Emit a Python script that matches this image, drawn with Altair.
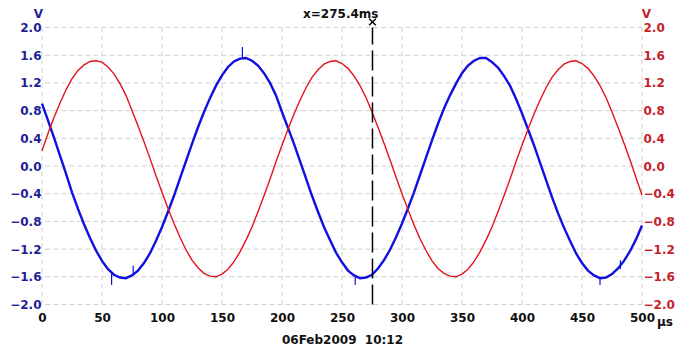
import altair as alt
import pandas as pd

# time axis (µs), sampled every 5 µs
t_us = list(range(0, 501, 5))

blue_v = [0.90, 0.66, 0.41, 0.15, -0.11, -0.38, -0.62, -0.84, -1.04, -1.22,
          -1.37, -1.49, -1.57, -1.61, -1.62, -1.58, -1.51, -1.40, -1.26, -1.08,
          -0.88, -0.66, -0.43, -0.18, 0.07, 0.32, 0.56, 0.78, 0.98, 1.16,
          1.31, 1.43, 1.51, 1.55, 1.56, 1.52, 1.45, 1.34, 1.20, 1.02,
          0.78, 0.55, 0.32, 0.07, -0.18, -0.43, -0.66, -0.88, -1.07, -1.25,
          -1.39, -1.51, -1.58, -1.62, -1.61, -1.57, -1.48, -1.36, -1.21, -1.03,
          -0.83, -0.61, -0.38, -0.13, 0.12, 0.37, 0.61, 0.83, 1.02, 1.19,
          1.34, 1.45, 1.52, 1.56, 1.56, 1.50, 1.42, 1.30, 1.16, 0.97,
          0.76, 0.53, 0.30, 0.05, -0.20, -0.45, -0.68, -0.89, -1.08, -1.26,
          -1.40, -1.51, -1.58, -1.62, -1.61, -1.56, -1.48, -1.37, -1.23, -1.06, -0.86]

red_v = [0.22, 0.47, 0.70, 0.91, 1.10, 1.26, 1.38, 1.46, 1.51, 1.52,
         1.50, 1.43, 1.33, 1.19, 1.02, 0.80, 0.58, 0.35, 0.11, -0.14,
         -0.38, -0.61, -0.83, -1.03, -1.21, -1.36, -1.47, -1.55, -1.59, -1.60,
         -1.56, -1.49, -1.38, -1.24, -1.07, -0.88, -0.66, -0.43, -0.19, 0.06,
         0.30, 0.53, 0.75, 0.95, 1.13, 1.28, 1.39, 1.47, 1.51, 1.52,
         1.48, 1.41, 1.30, 1.16, 0.99, 0.78, 0.56, 0.33, 0.09, -0.16,
         -0.40, -0.63, -0.85, -1.05, -1.22, -1.37, -1.48, -1.55, -1.59, -1.60,
         -1.56, -1.49, -1.38, -1.24, -1.07, -0.88, -0.66, -0.43, -0.19, 0.06,
         0.30, 0.53, 0.75, 0.95, 1.13, 1.28, 1.39, 1.47, 1.51, 1.52,
         1.48, 1.41, 1.30, 1.16, 0.99, 0.78, 0.56, 0.33, 0.09, -0.17, -0.42]

# noise spikes visible on the blue trace
spike_t = [58, 76, 167, 261, 465, 482]
spike_lo = [-1.54, -1.57, 1.55, -1.60, -1.61, -1.49]
spike_hi = [-1.72, -1.44, 1.72, -1.72, -1.72, -1.36]

x_ticks = [0, 50, 100, 150, 200, 250, 300, 350, 400, 450, 500]
y_ticks = [-2.0, -1.6, -1.2, -0.8, -0.4, 0.0, 0.4, 0.8, 1.2, 1.6, 2.0]

cursor_t = [275.4]
cursor_lo = [-2.0]
cursor_hi = [2.0]
date_text = "06Feb2009\u00a0 10:12"
unit_text = "µs"

FONT = "DejaVu Sans"
BLUE = "#1010e0"
RED = "#e0141e"
BLUE_LBL = "#1e1e96"
RED_LBL = "#c4222a"
GRID = "#d0d0d0"

df_blue = pd.DataFrame({"t": t_us, "v": blue_v})
df_red = pd.DataFrame({"t": t_us, "v": red_v})
df_spike = pd.DataFrame({"t": spike_t, "lo": spike_lo, "hi": spike_hi})
df_cur = pd.DataFrame({"t": cursor_t, "lo": cursor_lo, "hi": cursor_hi,
                       "label": [f"x={c}ms" for c in cursor_t]})
df_xg = pd.DataFrame({"t": x_ticks})
df_yg = pd.DataFrame({"g": y_ticks})

xscale = alt.Scale(domain=[0, 500], nice=False, zero=False)
yscale = alt.Scale(domain=[-2, 2], nice=False, zero=False)

x_axis = alt.Axis(values=x_ticks, grid=False, domain=False, ticks=False,
                  labelFlush=False,
                  labelFont=FONT, labelFontWeight="bold", labelFontSize=12,
                  labelColor="#111111", labelPadding=8,
                  title=date_text, titleFont=FONT, titleFontWeight="bold",
                  titleFontSize=12, titleColor="#111111", titlePadding=11)

left_axis = alt.Axis(orient="left", values=y_ticks, format=".1f", grid=False,
                     domain=False, ticks=False,
                     labelFont=FONT, labelFontWeight="bold", labelFontSize=12,
                     labelColor=BLUE_LBL, labelPadding=1, labelFlush=False,
                     title="V", titleAngle=0, titleX=-4, titleY=-14,
                     titleAlign="center", titleBaseline="middle",
                     titleFont=FONT, titleFontWeight="bold", titleFontSize=12,
                     titleColor=BLUE_LBL)

right_axis = alt.Axis(orient="right", values=y_ticks, format=".1f", grid=False,
                      domain=False, ticks=False,
                      labelFont=FONT, labelFontWeight="bold", labelFontSize=12,
                      labelColor=RED_LBL, labelPadding=1, labelFlush=False,
                      title="V", titleAngle=0, titleX=4, titleY=-14,
                      titleAlign="center", titleBaseline="middle",
                      titleFont=FONT, titleFontWeight="bold", titleFontSize=12,
                      titleColor=RED_LBL)


def X():
    return alt.X("t:Q", scale=xscale, axis=x_axis)


xgrid = alt.Chart(df_xg).mark_rule(color=GRID, strokeWidth=1,
                                   strokeDash=[5, 3]).encode(x=X())

ygrid = alt.Chart(df_yg).mark_rule(color=GRID, strokeWidth=1,
                                   strokeDash=[5, 3]).encode(
    y=alt.Y("g:Q", scale=yscale, axis=None),
)

blue = alt.Chart(df_blue).mark_line(color=BLUE, strokeWidth=2.4).encode(
    x=X(),
    y=alt.Y("v:Q", scale=yscale, axis=left_axis),
)

red = alt.Chart(df_red).mark_line(color=RED, strokeWidth=1.4).encode(
    x=X(),
    y=alt.Y("v:Q", scale=yscale, axis=right_axis),
)

spikes = alt.Chart(df_spike).mark_rule(color=BLUE, strokeWidth=1.2).encode(
    x=X(),
    y=alt.Y("lo:Q", scale=yscale, axis=None),
    y2="hi:Q",
)

cursor = alt.Chart(df_cur).mark_rule(color="black", strokeWidth=1.5,
                                     strokeDash=[20, 6]).encode(
    x=X(),
    y=alt.Y("lo:Q", scale=yscale, axis=None),
    y2="hi:Q",
)

cursor_mark = alt.Chart(df_cur).mark_point(
    shape="M-1,-1L1,1M-1,1L1,-1", size=45, color="black", strokeWidth=1.4,
    filled=False, opacity=1).encode(
    x=X(),
    y=alt.value(-5.5),
)

cursor_text = alt.Chart(df_cur).mark_text(
    align="right", baseline="middle", dx=6, font=FONT, fontWeight="bold",
    fontSize=12, color="#111111").encode(
    x=X(),
    y=alt.value(-14),
    text="label:N",
)

unit = alt.Chart(pd.DataFrame({"u": [unit_text]})).mark_text(
    align="left", baseline="middle", font=FONT, fontWeight="bold",
    fontSize=12, color="#111111").encode(
    x=alt.value(615), y=alt.value(294), text="u:N",
)

chart = alt.layer(xgrid, ygrid, blue, red, spikes, cursor, cursor_mark,
                  cursor_text, unit).resolve_scale(y="independent").properties(
    width=600, height=277,
    autosize=alt.AutoSizeParams(type="none"),
    padding={"left": 34, "top": 19.5, "right": 42, "bottom": 42},
    background="white",
).configure_view(stroke=None)

chart.save("out.html", embed_options={"renderer": "svg", "actions": False})
